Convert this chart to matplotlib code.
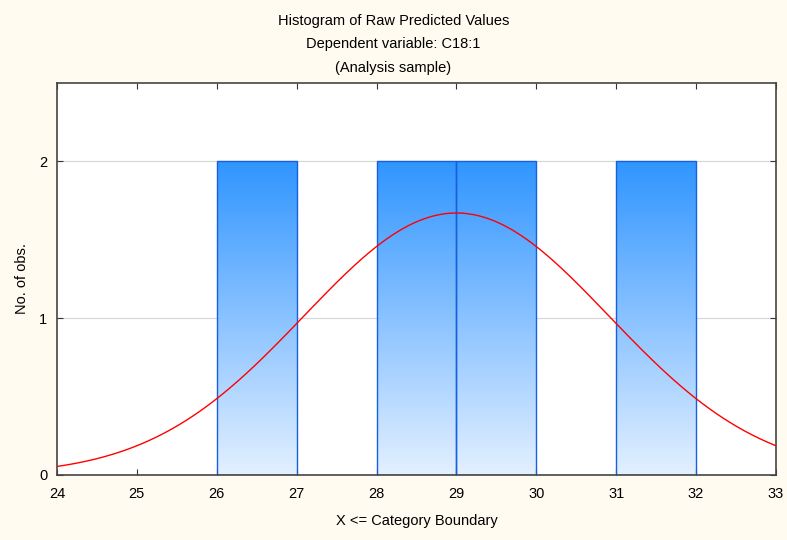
import numpy as np
import matplotlib
matplotlib.use("Agg")
import matplotlib.pyplot as plt
from matplotlib.colors import LinearSegmentedColormap
from matplotlib.patches import Rectangle

plt.rcParams['font.family'] = ['Liberation Sans', 'DejaVu Sans']

# Data
bin_left = [26, 28, 29, 31]
bin_right = [27, 29, 30, 32]
counts = [2, 2, 2, 2]
fit_mean = 29.0
fit_sd = 1.91
fit_n = 8
bin_width = 1.0
x_ticks = [24, 25, 26, 27, 28, 29, 30, 31, 32, 33]
y_ticks = [0, 1, 2]

fig = plt.figure(figsize=(7.87, 5.40), dpi=100, facecolor='#FFFBF0')
ax = fig.add_axes([0.0724, 0.1204, 0.9136, 0.7259])
ax.set_facecolor('white')
ax.set_xlim(24, 33)
ax.set_ylim(0, 2.5)

for y in y_ticks[1:]:
    ax.axhline(y, color='#d8d8d8', lw=0.9, zorder=0)

cmap = LinearSegmentedColormap.from_list('g', ['#E3F0FF', '#3095FF'])
grad = np.linspace(0, 1, 256).reshape(-1, 1)
for l, r, c in zip(bin_left, bin_right, counts):
    ax.imshow(grad, extent=(l, r, 0, c), origin='lower', cmap=cmap,
              aspect='auto', zorder=1, interpolation='bilinear')
    ax.add_patch(Rectangle((l, 0), r - l, c, fill=False, edgecolor='#1560DD',
                           lw=1.0, zorder=2))

xs = np.linspace(24, 33, 400)
ys = fit_n * bin_width / (fit_sd * np.sqrt(2 * np.pi)) * np.exp(-0.5 * ((xs - fit_mean) / fit_sd) ** 2)
ax.plot(xs, ys, color='#FF0000', lw=1.0, zorder=3)

ax.set_xlim(24, 33)
ax.set_ylim(0, 2.5)
ax.set_xticks(x_ticks)
ax.set_yticks(y_ticks)
ax.tick_params(direction='in', top=True, right=True, labelsize=10.5, length=4, color='#333333')
ax.tick_params(axis='x', pad=9)
ax.tick_params(axis='y', pad=7)
for s in ax.spines.values():
    s.set_color('#444444')
    s.set_linewidth(1.2)

ax.set_xlabel('X <= Category Boundary', fontsize=10.5, labelpad=9)
ax.set_ylabel('No. of obs.', fontsize=10.5, labelpad=7)
fig.text(0.5, 0.962, 'Histogram of Raw Predicted Values', ha='center', va='center', fontsize=10.5)
fig.text(0.5, 0.918, 'Dependent variable: C18:1', ha='center', va='center', fontsize=10.5)
fig.text(0.5, 0.874, '(Analysis sample)', ha='center', va='center', fontsize=10.5)

fig.savefig('out.png', dpi=100, facecolor=fig.get_facecolor())
